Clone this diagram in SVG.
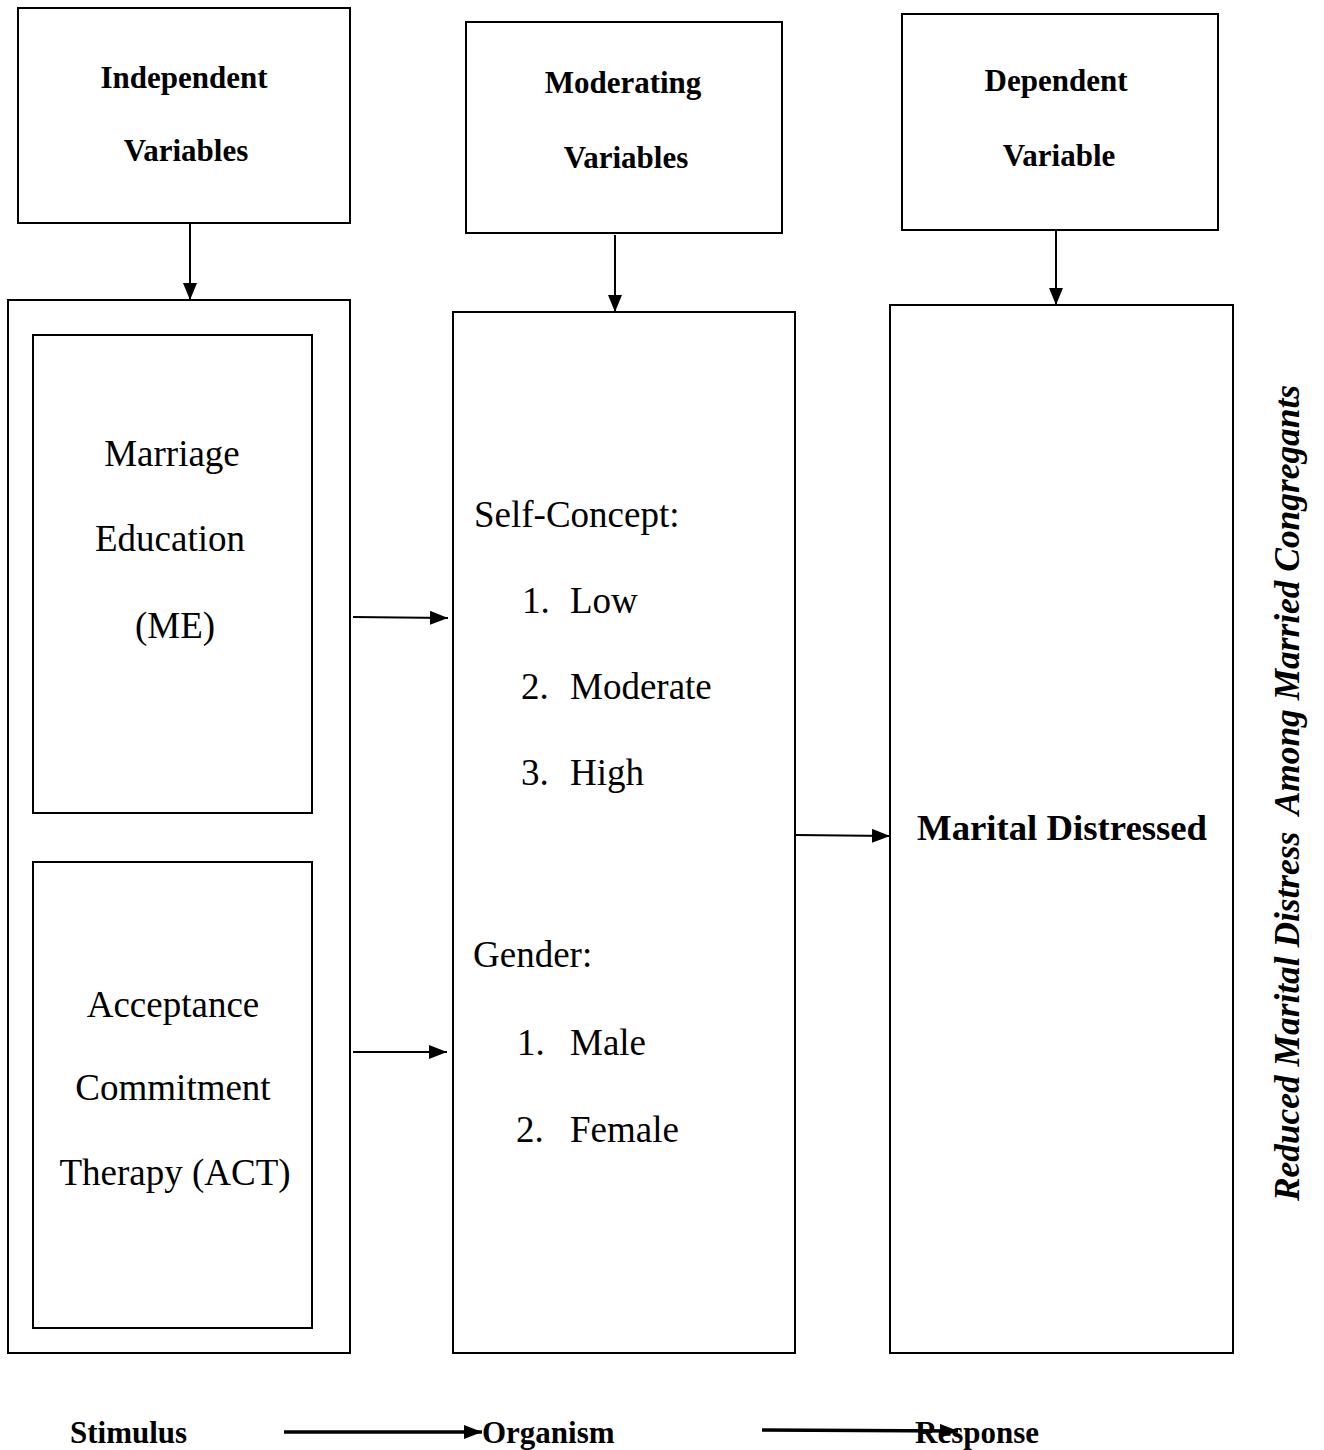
<svg xmlns="http://www.w3.org/2000/svg" width="1324" height="1450" viewBox="0 0 1324 1450">
<style>
.box{fill:#fff;stroke:#000;stroke-width:2}
.h{font-family:"Liberation Serif","Times New Roman",serif;font-weight:bold;font-size:31px;fill:#000}
.t{font-family:"Liberation Serif","Times New Roman",serif;font-size:37px;fill:#000}
.c{stroke:#000;stroke-width:2;fill:none}
.c3{stroke:#000;stroke-width:3.5;fill:none}
</style>
<defs>
<marker id="ahv" markerWidth="17" markerHeight="14" refX="17" refY="7" orient="auto" markerUnits="userSpaceOnUse" viewBox="0 0 17 14">
<path d="M0,0 L17,7 L0,14 Z" fill="#000"/>
</marker>
<marker id="ahh" markerWidth="18" markerHeight="14" refX="18" refY="7" orient="auto" markerUnits="userSpaceOnUse" viewBox="0 0 18 14">
<path d="M0,0 L18,7 L0,14 Z" fill="#000"/>
</marker>
</defs>
<g id="iv-head">
<rect class="box" x="18" y="8" width="332" height="215"/>
<text class="h" x="184" y="88" text-anchor="middle">Independent</text>
<text class="h" x="186" y="161" text-anchor="middle">Variables</text>
</g>
<g id="mv-head">
<rect class="box" x="466" y="22" width="316" height="211"/>
<text class="h" x="623" y="93" text-anchor="middle">Moderating</text>
<text class="h" x="626" y="168" text-anchor="middle">Variables</text>
</g>
<g id="dv-head">
<rect class="box" x="902" y="14" width="316" height="216"/>
<text class="h" x="1056" y="91" text-anchor="middle">Dependent</text>
<text class="h" x="1059" y="166" text-anchor="middle">Variable</text>
</g>
<g id="iv-box">
<rect class="box" x="8" y="300" width="342" height="1053"/>
</g>
<g id="me">
<rect class="box" x="33" y="335" width="279" height="478"/>
<text class="t" x="172" y="466" text-anchor="middle">Marriage</text>
<text class="t" x="170" y="551" text-anchor="middle">Education</text>
<text class="t" x="175" y="638" text-anchor="middle">(ME)</text>
</g>
<g id="act">
<rect class="box" x="33" y="862" width="279" height="466"/>
<text class="t" x="173" y="1017" text-anchor="middle">Acceptance</text>
<text class="t" x="173" y="1100" text-anchor="middle">Commitment</text>
<text class="t" x="175" y="1185" text-anchor="middle">Therapy (ACT)</text>
</g>
<g id="mv-box">
<rect class="box" x="453" y="312" width="342" height="1041"/>
<text class="t" x="474" y="527">Self-Concept:</text>
<text class="t" x="522" y="613">1.</text><text class="t" x="570" y="613">Low</text>
<text class="t" x="521" y="699">2.</text><text class="t" x="570" y="699">Moderate</text>
<text class="t" x="521" y="785">3.</text><text class="t" x="570" y="785">High</text>
<text class="t" x="473" y="967">Gender:</text>
<text class="t" x="517" y="1055">1.</text><text class="t" x="570" y="1055">Male</text>
<text class="t" x="516" y="1142">2.</text><text class="t" x="570" y="1142">Female</text>
</g>
<g id="dv-box">
<rect class="box" x="890" y="305" width="343" height="1048"/>
<text class="h" x="917" y="840" style="font-size:36px" textLength="290" lengthAdjust="spacingAndGlyphs">Marital Distressed</text>
</g>
<g id="side-label">
<text class="h" transform="translate(1299,1201) rotate(-90)" style="font-style:italic;font-size:35px;white-space:pre" textLength="816" lengthAdjust="spacingAndGlyphs">Reduced Marital Distress  Among Married Congregants</text>
</g>
<g id="sor-labels">
<text class="h" x="70" y="1443">Stimulus</text>
<text class="h" x="482" y="1443">Organism</text>
<text class="h" x="915" y="1443">Response</text>
</g>
<g id="connectors">
<line class="c" x1="190" y1="223" x2="190" y2="300" marker-end="url(#ahv)"/>
<line class="c" x1="615" y1="235" x2="615" y2="312" marker-end="url(#ahv)"/>
<line class="c" x1="1056" y1="230" x2="1056" y2="305" marker-end="url(#ahv)"/>
<line class="c" x1="353" y1="617" x2="448" y2="618" marker-end="url(#ahh)"/>
<line class="c" x1="353" y1="1052" x2="447" y2="1052" marker-end="url(#ahh)"/>
<line class="c" x1="796" y1="835" x2="890" y2="836" marker-end="url(#ahh)"/>
<line class="c3" x1="284" y1="1432" x2="482" y2="1432" marker-end="url(#ahh)"/>
<line class="c3" x1="762" y1="1430" x2="958" y2="1431" marker-end="url(#ahh)"/>
</g>
</svg>
